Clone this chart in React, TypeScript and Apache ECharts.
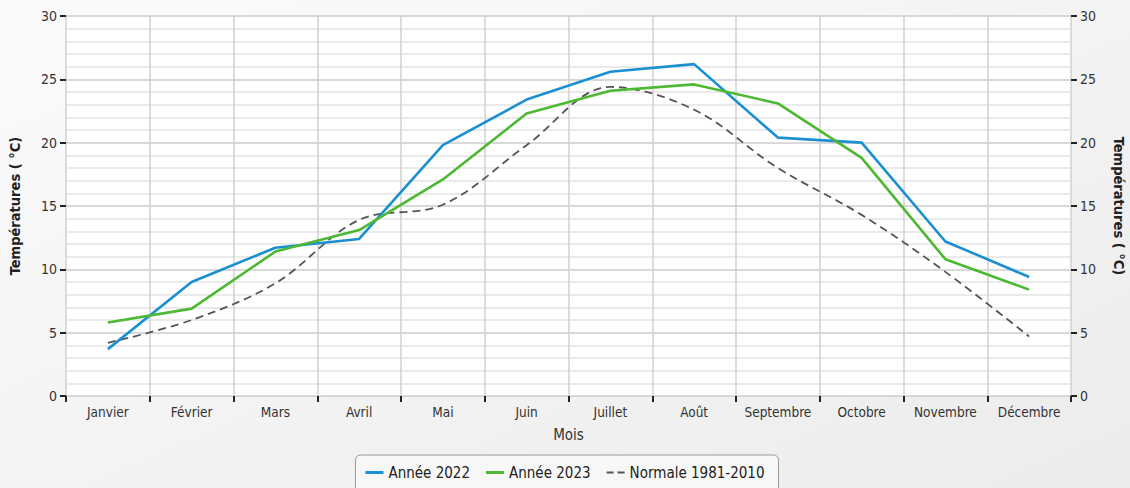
import React, { useEffect, useRef } from "react";
import * as echarts from "echarts";

const months = ["Janvier", "Février", "Mars", "Avril", "Mai", "Juin", "Juillet", "Août", "Septembre", "Octobre", "Novembre", "Décembre"];
const annee2022 = [3.7, 9.0, 11.7, 12.4, 19.8, 23.4, 25.6, 26.2, 20.4, 20.0, 12.2, 9.4];
const annee2023 = [5.8, 6.9, 11.4, 13.1, 17.1, 22.3, 24.1, 24.6, 23.1, 18.8, 10.8, 8.4];
const normale = [4.2, 6.0, 8.9, 13.9, 15.1, 19.8, 24.4, 22.6, 18.0, 14.3, 9.8, 4.7];

const FONT = "'DejaVu Sans Condensed', 'DejaVu Sans', sans-serif";

export default function App() {
  const ref = useRef<HTMLDivElement>(null);
  useEffect(() => {
    const chart = echarts.init(ref.current!, null, { renderer: "svg" });
    const axisLineStyle = { color: "#222", width: 2.5, shadowColor: "rgba(0,0,0,0.3)", shadowBlur: 3, shadowOffsetX: 2, shadowOffsetY: 2 };
    const yCommon = {
      type: "value",
      min: 0,
      max: 30,
      interval: 5,
      nameLocation: "middle",
      nameTextStyle: { fontFamily: FONT, fontWeight: "bold", fontSize: 14.5, color: "#222" },
      axisLine: { show: true, lineStyle: axisLineStyle },
      axisTick: { show: true, length: 6, lineStyle: { color: "#222", width: 2 } },
      axisLabel: { fontFamily: FONT, fontSize: 14, color: "#333", margin: 9 },
    };
    chart.setOption({
      animation: false,
      backgroundColor: new echarts.graphic.LinearGradient(0, 0, 1, 1, [
        { offset: 0, color: "#fbfbfb" },
        { offset: 1, color: "#ececec" },
      ]),
      grid: { left: 66, right: 59, top: 16, bottom: 92, show: true, backgroundColor: "#ffffff", borderWidth: 0, containLabel: false, outerBoundsMode: "none" },
      legend: {
        bottom: -6,
        left: "center",
        itemWidth: 18,
        itemHeight: 3,
        itemGap: 16,
        padding: [10, 14, 14, 10],
        borderColor: "#999",
        borderWidth: 1,
        borderRadius: 5,
        backgroundColor: "#f7f7f7",
        textStyle: { fontFamily: FONT, fontSize: 15, color: "#222" },
        data: [
          { name: "Année 2022", icon: "rect" },
          { name: "Année 2023", icon: "rect" },
          { name: "Normale 1981-2010", icon: "path://M0,0h7v2h-7z M11,0h7v2h-7z" },
        ],
      },
      xAxis: {
        type: "category",
        data: months,
        boundaryGap: true,
        name: "Mois",
        nameLocation: "middle",
        nameGap: 31,
        nameTextStyle: { fontFamily: FONT, fontSize: 15, color: "#333" },
        axisLine: { show: true, lineStyle: axisLineStyle },
        axisTick: { show: true, length: 6, alignWithLabel: false, lineStyle: { color: "#222", width: 2 } },
        axisLabel: { fontFamily: FONT, fontSize: 13.5, color: "#333", margin: 9, interval: 0 },
        splitLine: { show: true, interval: 0, lineStyle: { color: "#d0d0d0", width: 1.5 } },
      },
      yAxis: [
        {
          ...yCommon,
          position: "left",
          name: "Températures ( °C)",
          nameGap: 44,
          splitLine: { show: true, lineStyle: { color: "#cccccc", width: 1.5 } },
          minorTick: { show: false, splitNumber: 5 },
          minorSplitLine: { show: true, lineStyle: { color: "#e3e3e3", width: 1.5 } },
        },
        {
          ...yCommon,
          position: "right",
          name: "Températures ( °C)",
          nameGap: 40,
          nameRotate: -90,
          splitLine: { show: false },
        },
      ],
      series: [
        {
          name: "Normale 1981-2010",
          type: "line",
          data: normale,
          smooth: 0.35,
          symbol: "none",
          z: 2,
          lineStyle: { color: "#555", width: 1.8, type: [8, 5] },
          itemStyle: { color: "#555" },
        },
        {
          name: "Année 2022",
          type: "line",
          data: annee2022,
          symbol: "none",
          z: 3,
          lineStyle: { color: "#1a8fd1", width: 2.6 },
          itemStyle: { color: "#1a8fd1" },
        },
        {
          name: "Année 2023",
          type: "line",
          data: annee2023,
          symbol: "none",
          z: 3,
          lineStyle: { color: "#4db831", width: 2.6 },
          itemStyle: { color: "#4db831" },
        },
      ],
    });
    return () => chart.dispose();
  }, []);
  return <div ref={ref} style={{ position: "absolute", left: 0, top: 0, width: 1130, height: 488 }} />;
}
